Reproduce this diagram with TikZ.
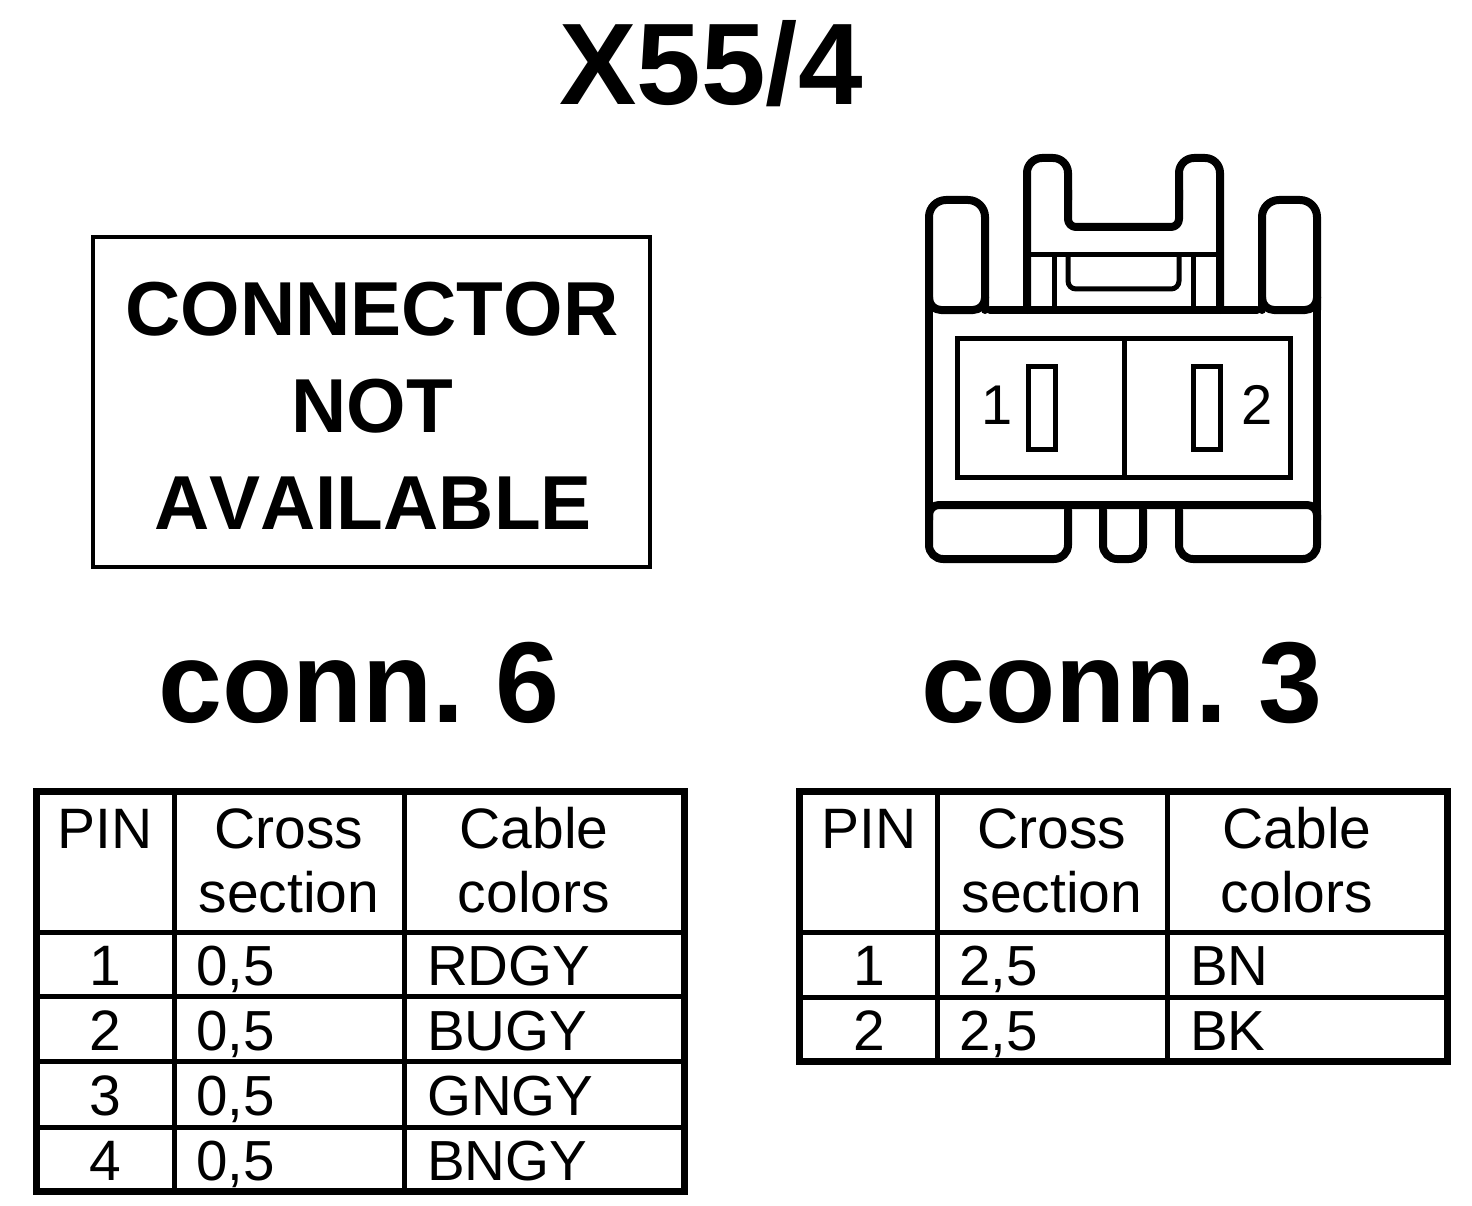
\documentclass[tikz,border=0pt]{standalone}
\usepackage{fontspec}
\setmainfont[Kerning=Off]{Liberation Sans}
\frenchspacing
\newcommand{\fs}[1]{\fontsize{#1}{#1}\selectfont}
\tikzset{
  px/.style={x=1pt,y=-1pt},
  title/.style={inner sep=0pt,anchor=base,font=\fs{116}\bfseries},
  conn/.style={inner sep=0pt,anchor=base,font=\fs{115}\bfseries},
  boxtext/.style={inner sep=0pt,anchor=base,font=\fs{76.5}\bfseries},
  cell/.style={inner sep=0pt,anchor=base,font=\fs{57}},
  cellL/.style={inner sep=0pt,anchor=base west,font=\fs{56.5}\addfontfeature{Kerning=On}},
  heavy/.style={line width=8pt,line join=round,line cap=round},
  thin part/.style={line width=5pt,line join=miter},
  outer/.style={line width=7pt},
  inner/.style={line width=5pt},
}
\newcommand{\tablegrid}[4]{%
  \begin{scope}[xshift=#1pt]
    \draw[outer] (36.5,791) rectangle (#2,#3);
    \draw[inner] (174.5,791) -- (174.5,#3) (404.5,791) -- (404.5,#3);
    \foreach \r in {#4} \draw[inner] (36.5,\r) -- (#2,\r);
  \end{scope}}
\begin{document}
\begin{tikzpicture}[px]
\useasboundingbox (0,0) rectangle (1472,1206);
\fill[white] (0,0) rectangle (1472,1206);
\node[title] (t) at (711,105) {X55/4};
% not available box
\draw[line width=4pt] (93,237) rectangle (650,567);
\node[boxtext] (b1) at (372,335) {CONNECTOR};
\node[boxtext] (b2) at (372,432) {NOT};
\node[boxtext] (b3) at (373,529) {AVAILABLE};
\node[conn] (c6) at (359,722) {conn.\kern-1pt{} 6};
\node[conn] (c3) at (1122,722) {conn.\kern-1pt{} 3};
% connector drawing
\draw[heavy,rounded corners=17pt] (929,310) -- (929,200) -- (985,200) -- (985,310);
\draw[heavy,rounded corners=17pt] (1262,310) -- (1262,200) -- (1317,200) -- (1317,310);
\draw[heavy] (929,300) -- (929,540) (1317,300) -- (1317,540);
\draw[heavy,rounded corners=12pt] (929,297) -- (929,310) -- (985,310) -- (985,297);
\draw[heavy,rounded corners=12pt] (1262,297) -- (1262,310) -- (1317,310) -- (1317,297);
\draw[heavy] (990,310) -- (1257,310);
\draw[heavy,rounded corners=15pt] (1027,310) -- (1027,158) -- (1068,158) -- (1068,200);
\draw[heavy,rounded corners=15pt] (1179,200) -- (1179,158) -- (1220,158) -- (1220,310);
\draw[heavy,rounded corners=8pt] (1068,190) -- (1068,227) -- (1179,227) -- (1179,190);
\draw[thin part] (1027,255) -- (1220,255) (1054,255) -- (1054,310) (1193,255) -- (1193,310);
\draw[thin part,rounded corners=8pt] (1068,255) -- (1068,289) -- (1179,289) -- (1179,255);
\draw[thin part] (957,338) rectangle (1290,477) (1124,338) -- (1124,477);
\draw[thin part] (1028,366) rectangle (1055,449) (1193,366) rectangle (1220,449);
\node[inner sep=0pt,anchor=base,font=\fs{56}] (p1) at (997,424) {1};
\node[inner sep=0pt,anchor=base,font=\fs{56}] (p2) at (1257,424) {2};
\draw[heavy,rounded corners=10pt] (929,520) -- (929,505) -- (1317,505) -- (1317,520);
\draw[heavy,rounded corners=14pt] (929,510) -- (929,559) -- (1068,559) -- (1068,510);
\draw[heavy,rounded corners=14pt] (1103,510) -- (1103,559) -- (1143,559) -- (1143,510);
\draw[heavy,rounded corners=14pt] (1179,510) -- (1179,559) -- (1317,559) -- (1317,510);
% left table
\tablegrid{0}{684.5}{1191}{932,996,1061,1127}
\node[cell] (lh1) at (105,848) {PIN};
\node[cell] (lh2) at (289,848) {Cross};
\node[cell] (lh3) at (289,912) {section};
\node[cell] (lh4) at (534,848) {Cable};
\node[cell] (lh5) at (534,912) {colors};
\node[cell] (l1p) at (105,985) {1};
\node[cell] (l2p) at (105,1050) {2};
\node[cell] (l3p) at (105,1115) {3};
\node[cell] (l4p) at (105,1180) {4};
\node[cellL] (l1s) at (196,985) {0,5};
\node[cellL] (l2s) at (196,1050) {0,5};
\node[cellL] (l3s) at (196,1115) {0,5};
\node[cellL] (l4s) at (196,1180) {0,5};
\node[cellL] (l1c) at (427,985) {RDGY};
\node[cellL] (l2c) at (427,1050) {BUGY};
\node[cellL] (l3c) at (427,1115) {GNGY};
\node[cellL] (l4c) at (427,1180) {BNGY};
% right table
\tablegrid{763}{684.5}{1061}{932,997}
\node[cell] (rh1) at (869,848) {PIN};
\node[cell] (rh2) at (1052,848) {Cross};
\node[cell] (rh3) at (1052,912) {section};
\node[cell] (rh4) at (1297,848) {Cable};
\node[cell] (rh5) at (1297,912) {colors};
\node[cell] (r1p) at (869,985) {1};
\node[cell] (r2p) at (869,1050) {2};
\node[cellL] (r1s) at (959,985) {2,5};
\node[cellL] (r2s) at (959,1050) {2,5};
\node[cellL] (r1c) at (1190,985) {BN};
\node[cellL] (r2c) at (1190,1050) {BK};
\end{tikzpicture}
\end{document}
